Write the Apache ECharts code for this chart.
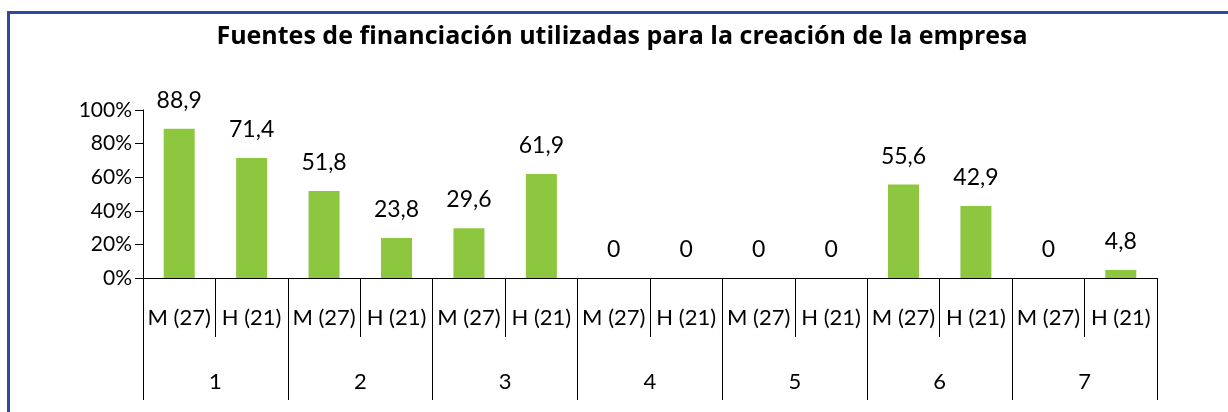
<!DOCTYPE html>
<html>
<head>
<meta charset="utf-8">
<script src="https://cdn.jsdelivr.net/npm/echarts@6/dist/echarts.min.js"></script>
<style>
  html, body { margin: 0; padding: 0; background: #fff; }
  #chartmain { width: 1228px; height: 412px; }
</style>
</head>
<body>
<div id="chartmain"></div>
<script>
// datos
var titulo = 'Fuentes de financiación utilizadas para la creación de la empresa';
var categorias = ['M (27)', 'H (21)', 'M (27)', 'H (21)', 'M (27)', 'H (21)', 'M (27)',
                  'H (21)', 'M (27)', 'H (21)', 'M (27)', 'H (21)', 'M (27)', 'H (21)'];
var grupos = ['1', '2', '3', '4', '5', '6', '7'];
var valores = [88.9, 71.4, 51.8, 23.8, 29.6, 61.9, 0, 0, 0, 0, 55.6, 42.9, 0, 4.8];
var yTicks = [0, 20, 40, 60, 80, 100];

var fuente = 'Lato, "Open Sans", sans-serif';

var chart = echarts.init(document.getElementById('chartmain'));
chart.setOption({
  animation: false,
  textStyle: { fontFamily: fuente },
  graphic: [
    { // marco azul
      type: 'rect',
      shape: { x: 8.5, y: 12.5, width: 1240, height: 430 },
      style: { fill: 'none', stroke: '#2b4b9f', lineWidth: 3 }
    },
    {
      type: 'text',
      x: 622, y: 37,
      style: {
        text: titulo,
        font: 'bold 25px "Open Sans", sans-serif',
        fill: '#000',
        textAlign: 'center',
        textVerticalAlign: 'middle'
      }
    }
  ],
  grid: { left: 143, right: 71, top: 110, bottom: 134 },
  xAxis: [
    {
      type: 'category',
      data: categorias,
      position: 'bottom',
      axisLine: { lineStyle: { color: '#000', width: 1 } },
      axisTick: { show: true, interval: 0, length: 59, lineStyle: { color: '#000' } },
      axisLabel: { interval: 0, margin: 29, fontSize: 22, color: '#000', fontFamily: fuente }
    },
    {
      type: 'category',
      data: grupos,
      position: 'bottom',
      axisLine: { show: false },
      axisTick: { show: true, interval: 0, length: 122, lineStyle: { color: '#000' } },
      axisLabel: { interval: 0, margin: 93, fontSize: 22, color: '#000', fontFamily: fuente }
    }
  ],
  yAxis: {
    type: 'value',
    min: yTicks[0],
    max: yTicks[yTicks.length - 1],
    interval: 20,
    axisLine: { show: true, lineStyle: { color: '#000' } },
    axisTick: { show: true, length: 8, lineStyle: { color: '#000' } },
    splitLine: { show: false },
    axisLabel: { margin: 11, fontSize: 21, color: '#000', formatter: '{value}%' }
  },
  series: [
    {
      type: 'bar',
      xAxisIndex: 0,
      data: valores,
      barWidth: 31,
      itemStyle: { color: '#8dc63f' },
      label: {
        show: true,
        position: 'top',
        distance: 17,
        fontSize: 23,
        color: '#000',
        fontFamily: fuente,
        formatter: function (p) { return String(p.value).replace('.', ','); }
      }
    }
  ]
});
</script>
</body>
</html>
